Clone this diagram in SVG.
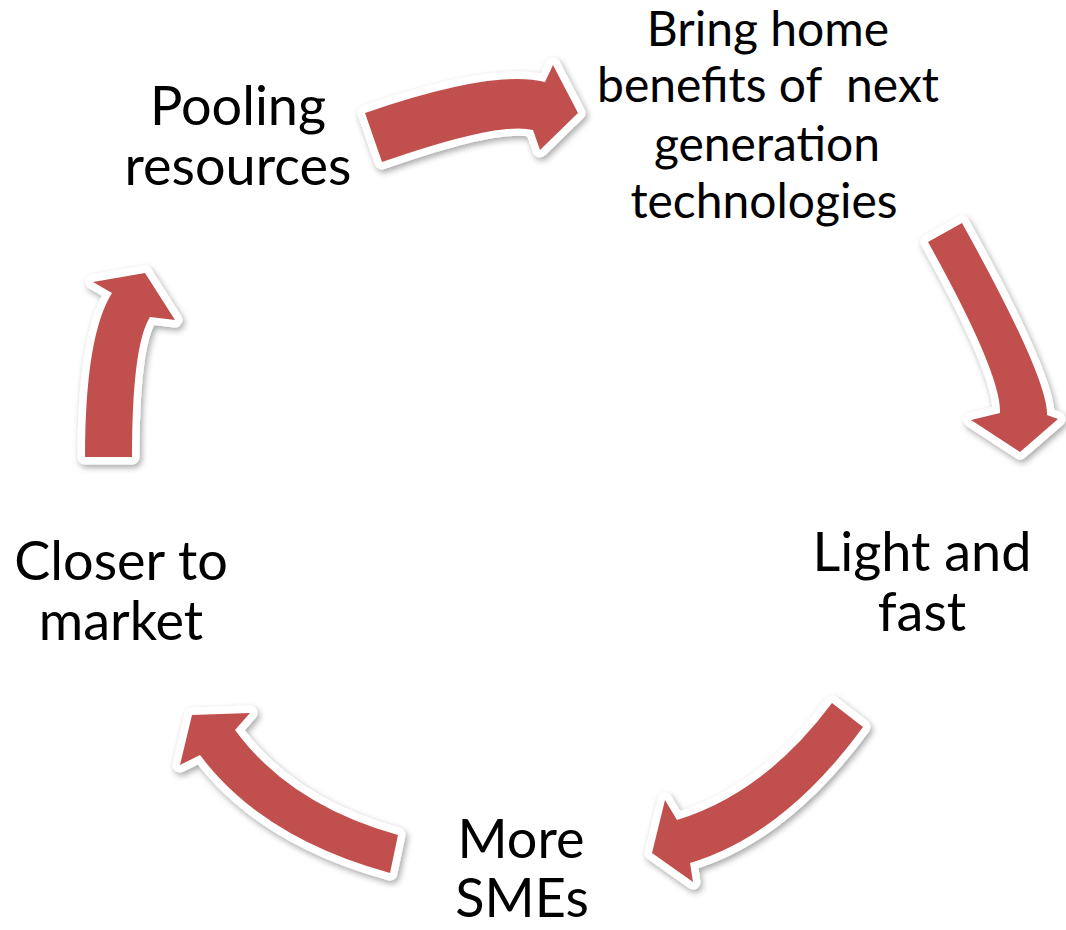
<svg xmlns="http://www.w3.org/2000/svg" width="1066" height="930" viewBox="0 0 1066 930">
<defs>
<filter id="sh" x="-20%" y="-20%" width="140%" height="140%">
<feDropShadow dx="2" dy="3" stdDeviation="3" flood-color="#000" flood-opacity="0.35"/>
</filter>
<style>
.arr{fill:#C0504D;stroke:#fff;stroke-width:15;stroke-linejoin:round;paint-order:stroke;filter:url(#sh)}
.lb{font-family:Lato,"Open Sans",sans-serif;fill:#000;text-anchor:middle;white-space:pre}
.big{font-size:54px}
.sm{font-size:48px}
</style>
</defs>
<rect width="1066" height="930" fill="#fff"/>
<g id="connectors">
<path class="arr" d="M365,113 Q492,69 545,82 L553,65 L578,113 L540,150 L533,130 Q499,121 382,162 Z"/>
<path class="arr" d="M928,242 L962,223 Q1048,378 1047,415 L1058,419 L1020,452 L971,420 L1000,413 Q1001.5,374 928,242 Z"/>
<path class="arr" d="M832,703 L863,727 Q784,835 690,863 L693,882 L652,853 L665,800 L677,820 Q765,793 832,703 Z"/>
<path class="arr" d="M398,835 Q290,805 235,730 L250,713 L192,715 L180,765 L200,755 Q262,838 390,873 Z"/>
<path class="arr" d="M85,457 Q85,336 112,293 L93,282 L145,273 L175,320 L150,317 Q132,345.5 132,457 Z"/>
</g>
<g id="node-pooling">
<text class="lb big" x="238" y="125">Pooling</text>
<text class="lb big" x="238" y="185">resources</text>
</g>
<g id="node-bring">
<text class="lb sm" x="768" y="46">Bring home</text>
<text class="lb sm" x="768" y="102">benefits of  next</text>
<text class="lb sm" x="767" y="161">generation</text>
<text class="lb sm" x="764" y="218">technologies</text>
</g>
<g id="node-light">
<text class="lb big" x="922" y="571">Light and</text>
<text class="lb big" x="922" y="631">fast</text>
</g>
<g id="node-smes">
<text class="lb big" x="521" y="858">More</text>
<text class="lb big" x="522" y="917">SMEs</text>
</g>
<g id="node-closer">
<text class="lb big" x="121" y="580">Closer to</text>
<text class="lb big" x="121" y="640">market</text>
</g>
</svg>
